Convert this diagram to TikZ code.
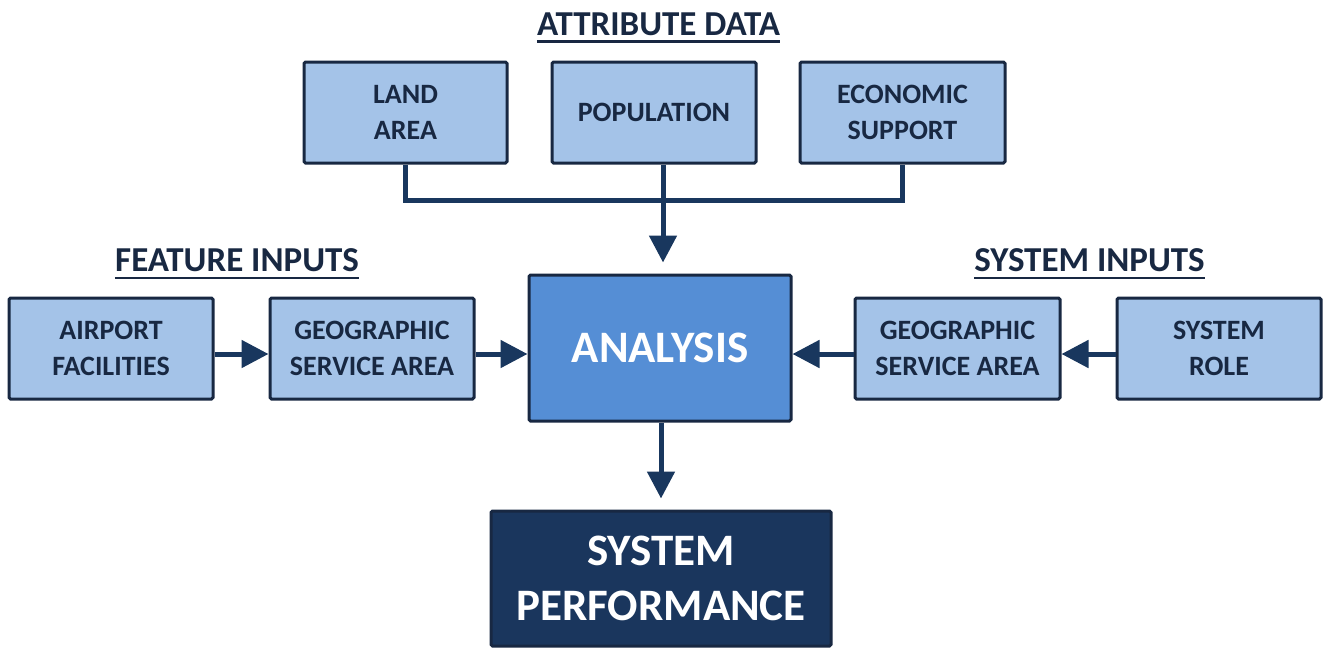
\documentclass[tikz,border=0pt]{standalone}
\usepackage{fontspec}
\setmainfont{Carlito}
\usetikzlibrary{arrows.meta}
\definecolor{navy}{RGB}{25,55,94}
\definecolor{ink}{RGB}{24,40,66}
\definecolor{lightfill}{RGB}{164,195,232}
\definecolor{anafill}{RGB}{85,142,213}
\definecolor{perffill}{RGB}{26,54,93}
\tikzset{
  box/.style={draw=ink, line width=3pt, rounded corners=1.5pt, fill=lightfill,
    minimum width=204pt, minimum height=101pt, inner sep=0pt, align=center,
    text=ink, font=\fontsize{28}{35.5}\selectfont\bfseries},
  bigbox/.style={draw=ink, line width=3pt, rounded corners=1.5pt, inner sep=0pt,
    align=center, text=white, font=\fontsize{45}{55}\selectfont\bfseries},
  heading/.style={anchor=base, inner sep=0pt, text=ink, font=\fontsize{35}{40}\selectfont\bfseries},
  ul/.style={draw=ink, line width=2.5pt},
  conn/.style={draw=navy, line width=5pt},
  arr/.style={conn, -{Triangle[length=27pt,width=27pt]}}
}
\begin{document}
\begin{tikzpicture}[x=1pt,y=-1pt]
\useasboundingbox (0,0) rectangle (1324,648);
% headings
\node[heading] (tattr) at (658.5,35) {ATTRIBUTE DATA};
\node[heading] (tfeat) at (237,271.5) {FEATURE INPUTS};
\node[heading] (tsys) at (1089.5,271.5) {SYSTEM INPUTS};
\foreach \t in {tattr,tfeat,tsys}
  \draw[ul] ([yshift=-6.5pt]\t.base west) -- ([yshift=-6.5pt]\t.base east);
% attribute boxes
\node[box, minimum width=203pt] (land) at (405.5,112.5) {LAND\\AREA};
\node[box] (pop) at (654,112.5) {POPULATION};
\node[box, minimum width=205pt] (econ) at (902.5,112.5) {ECONOMIC\\SUPPORT};
% middle row
\node[box] (air) at (111,348.5) {AIRPORT\\FACILITIES};
\node[box] (geol) at (372,348.5) {GEOGRAPHIC\\SERVICE AREA};
\node[bigbox, fill=anafill, minimum width=262pt, minimum height=146pt] (ana) at (660,348) {ANALYSIS};
\node[box, minimum width=205pt] (geor) at (957.5,348.5) {GEOGRAPHIC\\SERVICE AREA};
\node[box] (role) at (1219,348.5) {SYSTEM\\ROLE};
% bottom
\node[bigbox, fill=perffill, minimum width=340pt, minimum height=135pt] (perf) at (661,578.5) {SYSTEM\\PERFORMANCE};
% connectors
\draw[conn] (land.south) -- ++(0,35.5) -| (econ.south);
\draw[arr, shorten >=11pt] ([xshift=9pt]pop.south) -- ([xshift=3pt]ana.north);
\draw[arr] ([yshift=-5.5pt]air.east) -- ([yshift=-5.5pt]geol.west);
\draw[arr] ([yshift=-5.5pt]geol.east) -- ([yshift=-6pt]ana.west);
\draw[arr] ([yshift=-5.5pt]role.west) -- ([yshift=-5.5pt]geor.east);
\draw[arr] ([yshift=-5.5pt]geor.west) -- ([yshift=-6pt]ana.east);
\draw[arr, shorten >=11pt] ([xshift=1pt]ana.south) -- ([xshift=0pt]perf.north);
\end{tikzpicture}
\end{document}
